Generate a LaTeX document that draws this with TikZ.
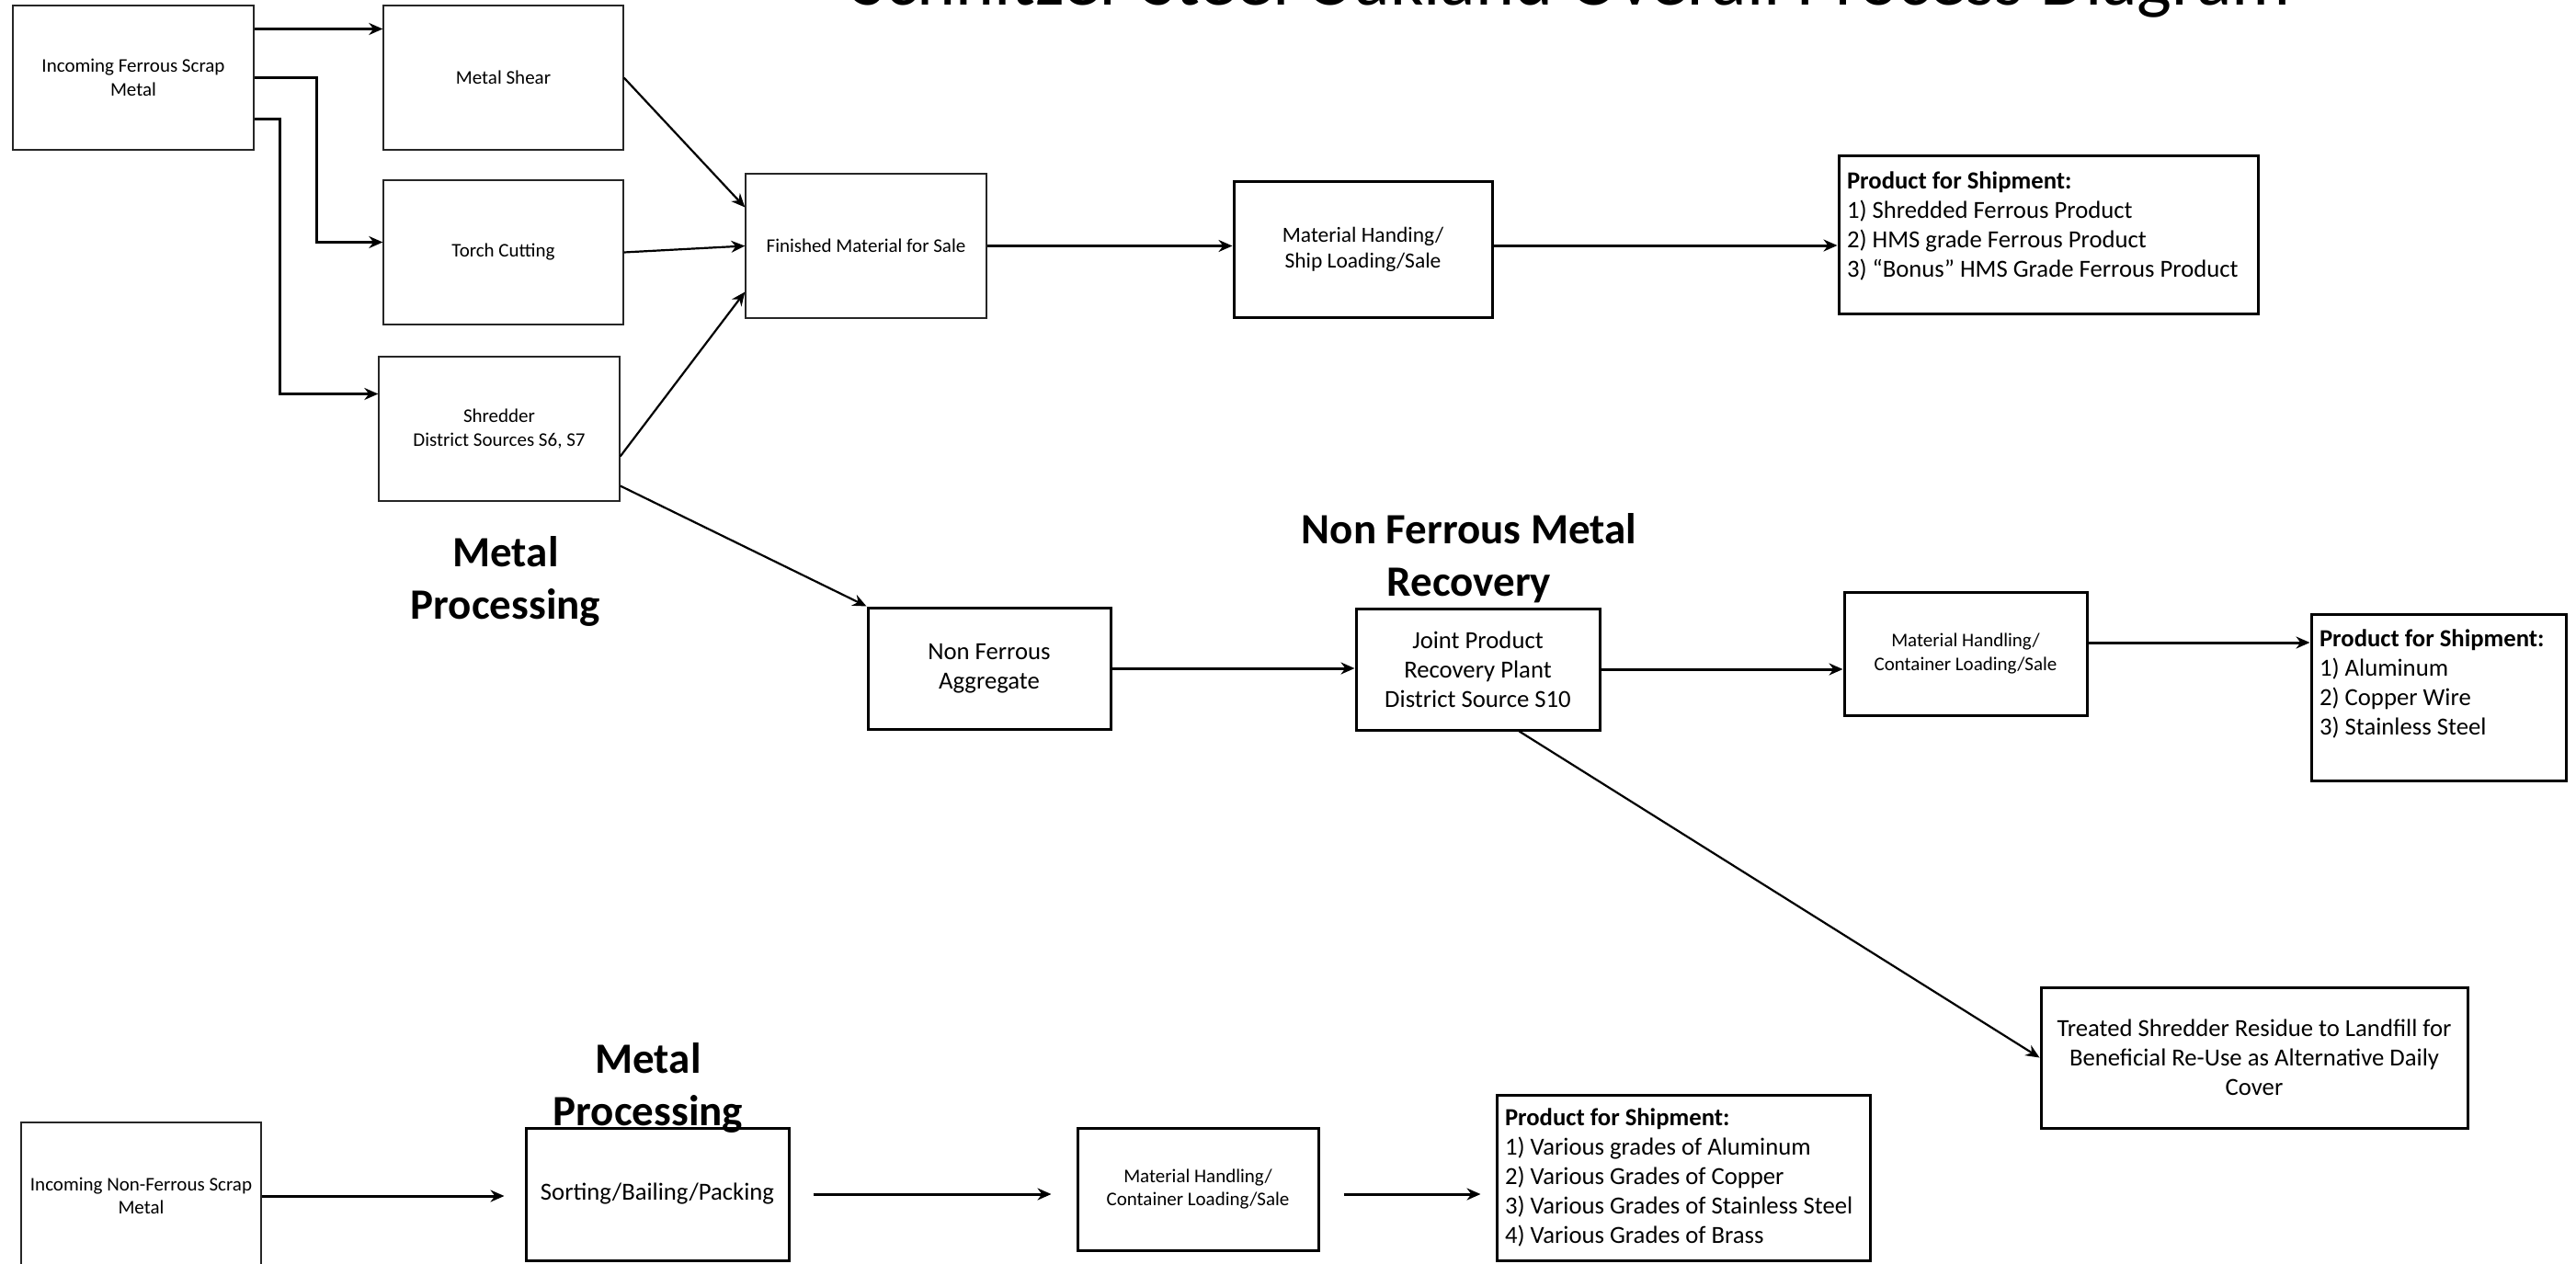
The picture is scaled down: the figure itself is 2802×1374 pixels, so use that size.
\documentclass[tikz,border=0pt]{standalone}
\usepackage{fontspec}
\setmainfont{Carlito}
\usetikzlibrary{arrows.meta,positioning}

\begin{document}
\begin{tikzpicture}[
    x=1pt, y=-1pt,
    block/.style={rectangle, draw=black!85, line width=1.3pt, align=center, inner sep=4pt, font=\fontsize{21}{25.5}\selectfont},
    heavy/.style={block, draw=black, line width=3pt},
    bigtext/.style={font=\fontsize{26.7}{32}\selectfont},
    ship/.style={heavy, bigtext, align=flush left, inner xsep=9pt},
    banner/.style={align=center, font=\fontsize{47}{57}\selectfont\bfseries},
    arr/.style={-{Stealth[length=15pt, width=13pt]}, line width=3pt},
    thinarr/.style={arr, line width=2.2pt}
]
\useasboundingbox (0,0) rectangle (2802,1374);
\clip (0,0) rectangle (2802,1374);

\node[anchor=base, font=\fontsize{80}{96}\selectfont] (title) at (1709,5) {Schnitzer Steel Oakland Overall Process Diagram};

% ferrous line
\node[block, minimum width=262pt, minimum height=157pt] (inF) at (145,84.5) {Incoming Ferrous Scrap\\Metal};
\node[block, minimum width=261pt, minimum height=157pt] (shear) at (547.5,84.5) {Metal Shear};
\node[block, minimum width=261pt, minimum height=157pt] (torch) at (547.5,274.5) {Torch Cutting};
\node[block, minimum width=262pt, minimum height=157pt] (shred) at (543,466.5) {Shredder\\District Sources S6, S7};
\node[block, minimum width=262pt, minimum height=157pt] (fin) at (942,267.5) {Finished Material for Sale};
\node[heavy, font=\fontsize{23.5}{28}\selectfont, minimum width=281pt, minimum height=148pt] (mhs) at (1482.5,271) {Material Handing/\\Ship Loading/Sale};
\node[ship, text width=438pt, minimum height=172pt] (prod1) at (2228,255) {\textbf{Product for Shipment:}\\1) Shredded Ferrous Product\\2) HMS grade Ferrous Product\\3) “Bonus” HMS Grade Ferrous Product\\[-10pt]\mbox{}};
\node[banner] (lblMP) at (550,632) {Metal\\Processing};

% non ferrous recovery
\node[heavy, bigtext, minimum width=264pt, minimum height=132pt] (agg) at (1076,727) {Non Ferrous\\Aggregate};
\node[heavy, bigtext, minimum width=265pt, minimum height=132pt] (joint) at (1607.5,728) {Joint Product\\Recovery Plant\\District Source S10};
\node[heavy, minimum width=264pt, minimum height=134pt] (mhc) at (2138,711) {Material Handling/\\Container Loading/Sale};
\node[ship, text width=259pt, minimum height=181pt] (prod2) at (2652.5,758.5) {\textbf{Product for Shipment:}\\1) Aluminum\\2) Copper Wire\\3) Stainless Steel\\\mbox{}};
\node[heavy, bigtext, minimum width=464pt, minimum height=153pt] (treat) at (2452,1150.5) {Treated Shredder Residue to Landfill for\\Beneficial Re-Use as Alternative Daily\\Cover};
\node[banner] (lblNF) at (1598,607) {Non Ferrous Metal\\Recovery};

% non ferrous scrap line
\node[block, minimum width=261pt, minimum height=160pt] (inNF) at (153.5,1301) {Incoming Non-Ferrous Scrap\\Metal};
\node[heavy, bigtext, minimum width=286pt, minimum height=144pt] (sort) at (715,1299) {Sorting/Bailing/Packing};
\node[heavy, minimum width=262pt, minimum height=133pt] (mhb) at (1303,1293.5) {Material Handling/\\Container Loading/Sale};
\node[ship, text width=388pt, minimum height=180pt] (prod3) at (1831,1281) {\textbf{Product for Shipment:}\\1) Various grades of Aluminum\\2) Various Grades of Copper\\3) Various Grades of Stainless Steel\\4) Various Grades of Brass};
\node[banner] (lblMP2) at (705,1183) {Metal\\Processing};

\draw[arr] ([yshift=53pt]inF.east) -- ([yshift=53pt]shear.west);
\draw[arr] (inF.east) -- ++(68,0) |- ([yshift=11pt]torch.west);
\draw[arr] ([yshift=-45pt]inF.east) -- ++(28,0) |- ([yshift=38pt]shred.west);
\draw[thinarr] (shear.east) -- ([yshift=42pt]fin.west);
\draw[thinarr] (torch.east) -- (fin.west);
\draw[thinarr] ([yshift=-30pt]shred.east) -- ([yshift=-50pt]fin.west);
\draw[thinarr] ([yshift=-62pt]shred.east) -- (agg.north west);
\draw[arr] (fin.east) -- (fin.east -| mhs.west);
\draw[arr] ([yshift=4pt]mhs.east) -- ([yshift=4pt]mhs.east -| prod1.west);

\draw[arr] (agg.east) -- (agg.east -| joint.west);
\draw[arr] (joint.east) -- (joint.east -| mhc.west);
\draw[arr] ([yshift=12pt]mhc.east) -- ([yshift=12pt]mhc.east -| prod2.west);
\draw[thinarr] ([xshift=45pt]joint.south) -- (treat.west);

\draw[arr, shorten >=22pt] (inNF.east) -- (inNF.east -| sort.west);
\draw[arr, shorten <=25pt, shorten >=27pt] (sort.east) -- (sort.east -| mhb.west);
\draw[arr, shorten <=26pt, shorten >=16pt] ([yshift=-5.5pt]mhb.east) -- ([yshift=-5.5pt]mhb.east -| prod3.west);
\end{tikzpicture}
\end{document}
